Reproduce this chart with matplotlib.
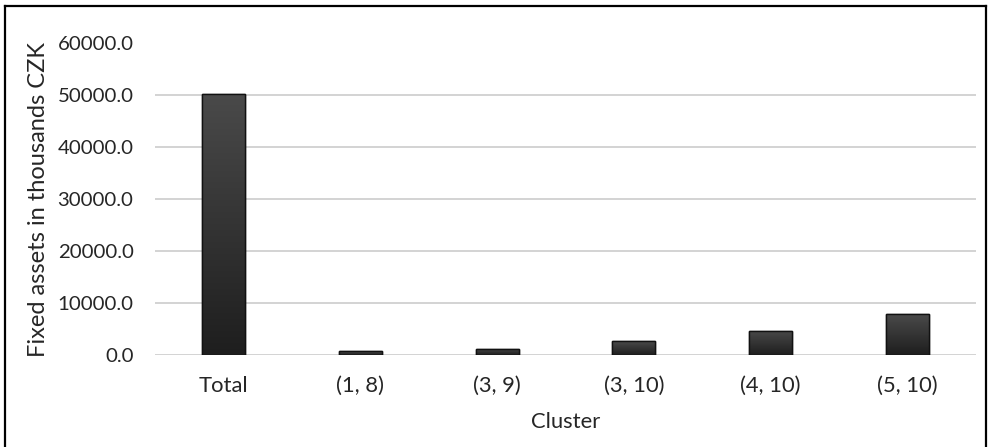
import matplotlib
matplotlib.use("Agg")
import matplotlib.pyplot as plt
import numpy as np
from matplotlib.patches import Rectangle
from matplotlib.lines import Line2D

plt.rcParams['font.family'] = ['Lato', 'DejaVu Sans']

categories = ["Total", "(1, 8)", "(3, 9)", "(3, 10)", "(4, 10)", "(5, 10)"]
fixed_assets = [50300.0, 720.0, 1170.0, 2670.0, 4680.0, 7860.0]
y_ticks = [0, 10000, 20000, 30000, 40000, 50000, 60000]

W, H = 988, 447
fig = plt.figure(figsize=(W / 100, H / 100), dpi=100)
ax = fig.add_axes([155 / W, (H - 355) / H, (976 - 155) / W, (355 - 43.5) / H])

x = np.arange(len(categories))
bars = ax.bar(x, fixed_assets, width=0.315, color="#333333",
              edgecolor="#111111", linewidth=1.0, zorder=3)

# vertical gradient fill inside each bar
grad = np.linspace(0, 1, 256).reshape(-1, 1)
cmap = matplotlib.colors.LinearSegmentedColormap.from_list("g", ["#1e1e1e", "#4a4a4a"])
for b in bars:
    bx, by = b.get_x(), b.get_y()
    w, h = b.get_width(), b.get_height()
    im = ax.imshow(grad, extent=[bx, bx + w, by, by + h], origin="lower",
                   cmap=cmap, aspect="auto", zorder=3.5)
    im.set_clip_path(b)
    ax.add_patch(Rectangle((bx, by), w, h, fill=False, edgecolor="#111111",
                           linewidth=1.0, zorder=4))

ax.set_xlim(-0.5, len(categories) - 0.5)
ax.set_ylim(0, 60000)
ax.set_yticks(y_ticks)
ax.set_yticklabels([f"{v:.1f}" for v in y_ticks])
ax.set_xticks(x)
ax.set_xticklabels(categories)
ax.grid(axis="y", color="#d0d0d0", linewidth=1.3, zorder=0)
ax.set_axisbelow(True)
for s in ax.spines.values():
    s.set_visible(False)
ax.tick_params(axis="both", length=0, colors="#262626")
ax.tick_params(axis="y", labelsize=14.7, pad=15.5)
ax.tick_params(axis="x", labelsize=15.8, pad=15)

ax.set_xlabel("Cluster", fontsize=15.8, color="#262626", labelpad=12)
ax.set_ylabel("Fixed assets in thousands CZK", fontsize=17, color="#262626", labelpad=6)

# chart frame (open at the bottom edge)
frame = dict(color="black", linewidth=1.6, transform=fig.transFigure)
l, r, t = 5 / W, 986 / W, 1 - 6 / H
fig.lines.extend([
    Line2D([l, l], [0, t], **frame),
    Line2D([l, r], [t, t], **frame),
    Line2D([r, r], [t, 0], **frame),
])

fig.savefig("out.png", dpi=100)
